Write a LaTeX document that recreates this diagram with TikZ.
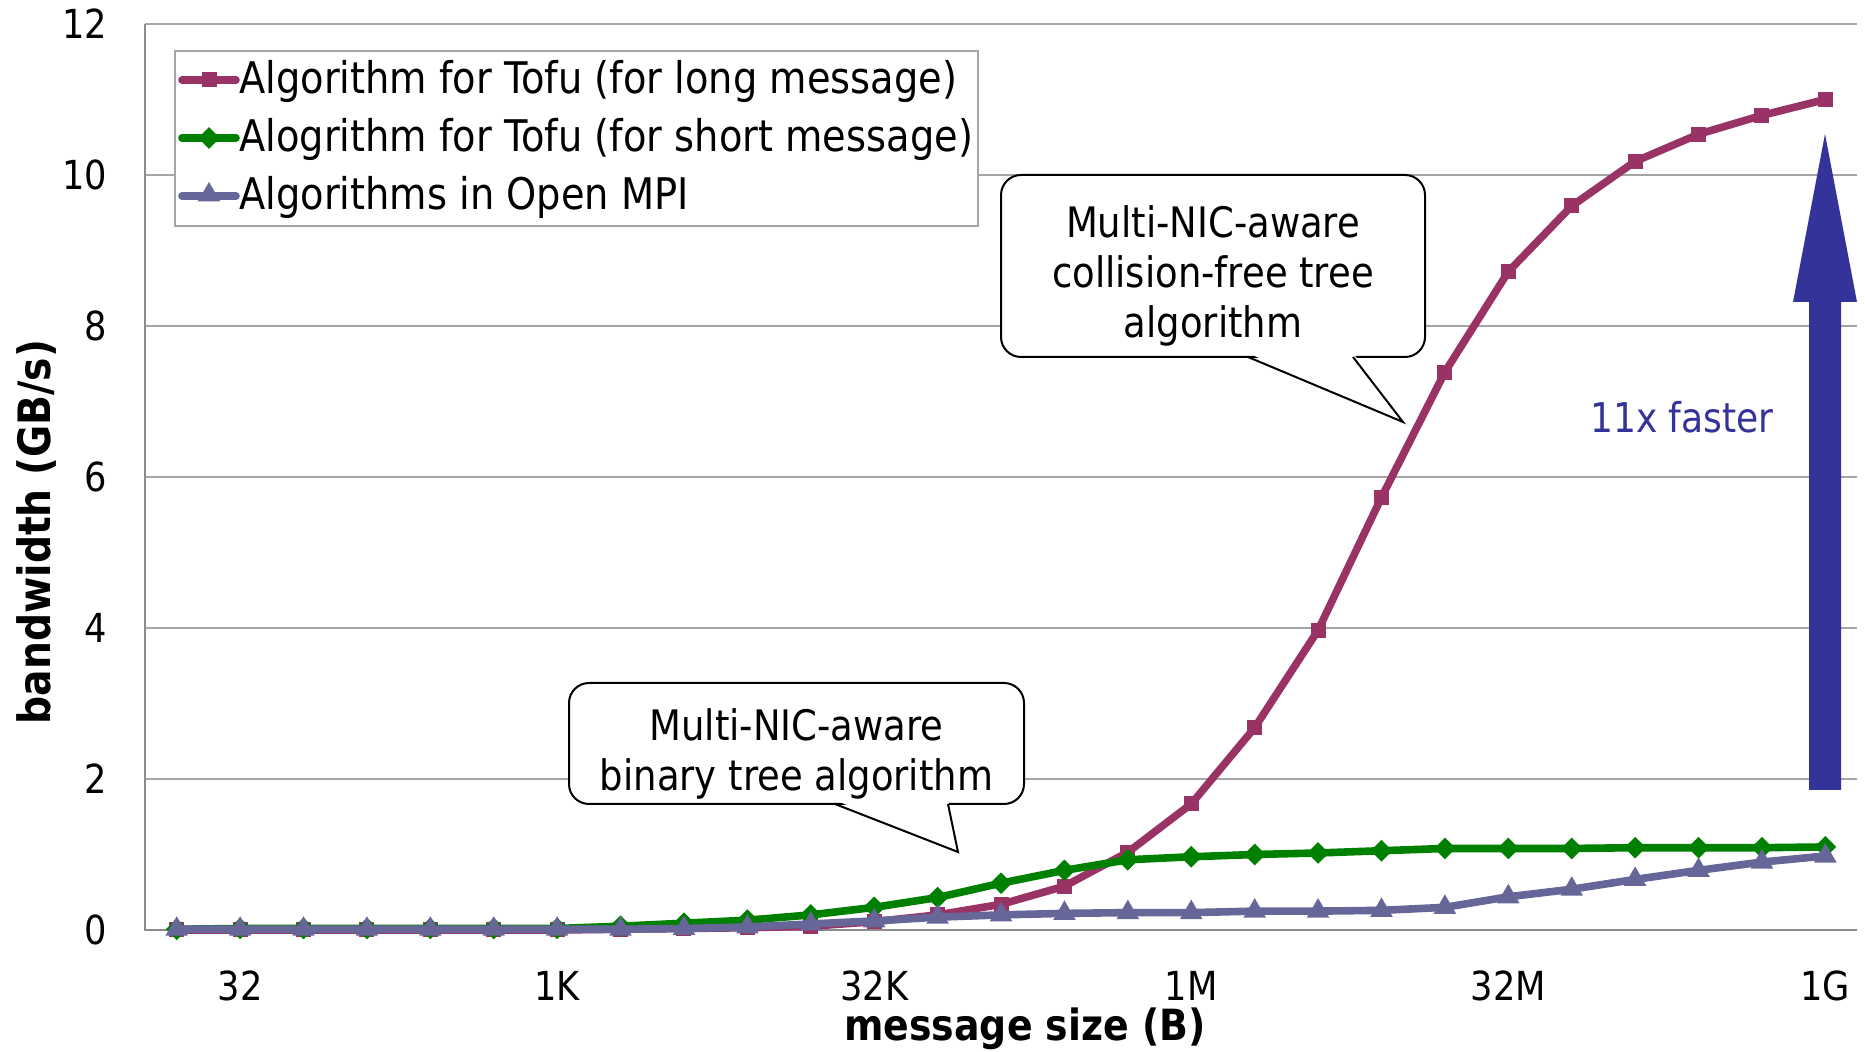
\documentclass[tikz,border=0pt]{standalone}
\usepackage{fontspec}
\setmainfont{DejaVu Sans}[FakeStretch=0.88]
\usetikzlibrary{shapes.geometric}

\definecolor{longc}{HTML}{993366}
\definecolor{shortc}{HTML}{008000}
\definecolor{mpic}{HTML}{666699}
\definecolor{arrowc}{HTML}{333399}
\definecolor{gridc}{HTML}{A6A6A6}
\definecolor{axisc}{HTML}{8C8C8C}

% category position (0 = 16 B, 26 = 1 GB) and value position
\newcommand\xcat[1]{(176.7+63.41*(#1))}
\newcommand\yval[1]{(930-75.5*(#1))}

% bandwidth values in GB/s, one per message size 16 B ... 1 GB
\def\longlist{0,0,0,0,0,0,0,0.01,0.02,0.03,0.05,0.11,0.2,0.34,0.58,1.03,1.67,2.68,3.97,5.73,7.39,8.72,9.59,10.18,10.54,10.79,11.0}
\def\shortlist{0.01,0.02,0.02,0.02,0.02,0.02,0.02,0.05,0.09,0.13,0.2,0.3,0.43,0.62,0.79,0.93,0.97,1.0,1.02,1.05,1.08,1.08,1.08,1.09,1.09,1.09,1.1}
\def\mpilist{0.01,0.01,0.01,0.01,0.01,0.01,0.01,0.01,0.02,0.04,0.08,0.12,0.17,0.2,0.22,0.23,0.23,0.25,0.25,0.26,0.3,0.44,0.54,0.67,0.79,0.9,0.98}

\tikzset{
  series/.style={line width=3.8pt, line join=round, line cap=round},
  sqmark/.style={rectangle, fill=longc, minimum size=7.5pt, inner sep=0pt},
  dmmark/.style={diamond, fill=shortc, minimum size=11pt, inner sep=0pt},
  trmark/.style={regular polygon, regular polygon sides=3, fill=mpic, minimum size=13pt, inner sep=0pt},
  gridline/.style={draw=gridc, line width=0.9pt},
  axisline/.style={draw=axisc, line width=0.9pt},
  ticklab/.style={font=\fontsize{20}{24}\selectfont, inner sep=0pt},
  legtext/.style={font=\fontsize{21.8}{26}\selectfont, inner sep=0pt, anchor=base west},
  axtitle/.style={font=\fontsize{21.5}{26}\selectfont\bfseries, inner sep=0pt, anchor=base},
  callout/.style={draw=black, fill=white, line width=1pt, rounded corners=10pt, inner sep=0pt},
  callouttext/.style={align=center, inner sep=0pt, font=\fontsize{21}{25}\selectfont},
  pointer/.style={draw=black, line width=1pt, line join=miter},
}

\begin{document}
\begin{tikzpicture}[x=0.5pt, y=-0.5pt]
  \useasboundingbox (0,0) rectangle (1865,1052);

  % horizontal grid lines and axes
  \foreach \v in {2,4,...,12}
    \draw[gridline] (145,{\yval{\v}}) -- (1857,{\yval{\v}});
  \draw[axisline] (145,{\yval{12}}) -- (145,{\yval{0}}) -- (1857,{\yval{0}});

  % value axis labels
  \foreach \v in {0,2,...,12}
    \node[ticklab, anchor=east] (yl\v) at (107.5,{\yval{\v}}) {\v};

  % message size labels
  \foreach \i/\t in {1/32,6/1K,11/32K,16/1M,21/32M,26/1G}
    \node[ticklab] (xl\i) at ({\xcat{\i}},986) {\t};

  % axis titles
  \node[axtitle] (xtitle) at (1025,1041) {message size (B)};
  \node[axtitle, font=\fontsize{22.3}{26}\selectfont\bfseries, rotate=90] (ytitle)
    at (50,532) {bandwidth (GB/s)};

  % legend
  \node[draw=gridc, fill=white, line width=0.8pt, minimum width=401.5pt,
        minimum height=87.5pt, inner sep=0pt] (legend) at (576.5,138.5) {};
  \draw[series, longc] (182,80) -- (236,80);
  \node[sqmark] (lm1) at (209,80) {};
  \node[legtext] (lt1) at (239,94) {Algorithm for Tofu (for long message)};
  \draw[series, shortc] (182,138) -- (236,138);
  \node[dmmark] (lm2) at (209,138) {};
  \node[legtext] (lt2) at (239,152) {Alogrithm for Tofu (for short message)};
  \draw[series, mpic] (182,196) -- (236,196);
  \node[trmark] (lm3) at (209,195) {};
  \node[legtext] (lt3) at (239,210) {Algorithms in Open MPI};

  % series: long-message algorithm
  \draw[series, longc] ({\xcat{0}},{\yval{0}})
    foreach \v [count=\i from 0] in \longlist { -- ({\xcat{\i}},{\yval{\v}}) };
  \foreach \v [count=\i from 0] in \longlist
    \node[sqmark] (m\i) at ({\xcat{\i}},{\yval{\v}}) {};

  % series: short-message algorithm
  \draw[series, shortc] ({\xcat{0}},{\yval{0.01}})
    foreach \v [count=\i from 0] in \shortlist { -- ({\xcat{\i}},{\yval{\v}}) };
  \foreach \v [count=\i from 0] in \shortlist
    \node[dmmark] (g\i) at ({\xcat{\i}},{\yval{\v}}) {};

  % series: Open MPI
  \draw[series, mpic] ({\xcat{0}},{\yval{0.01}})
    foreach \v [count=\i from 0] in \mpilist { -- ({\xcat{\i}},{\yval{\v}}) };
  \foreach \v [count=\i from 0] in \mpilist
    \node[trmark] (p\i) at ({\xcat{\i}},{\yval{\v}}) {};

  % callout: binary tree
  \node[callout, minimum width=227.5pt, minimum height=60.5pt] (c1) at (796.5,743.5) {};
  \coordinate (c1a) at (835,804);
  \coordinate (c1b) at (948,804);
  \coordinate (c1tip) at (958,852);
  \fill[white] ([yshift=2pt]c1a) -- (c1tip) -- ([yshift=2pt]c1b) -- cycle;
  \draw[pointer] (c1a) -- (c1tip) -- (c1b);
  \node[callouttext] (c1text) at (796.5,753.5) {Multi-NIC-aware\\binary tree algorithm};

  % callout: collision-free tree
  \node[callout, minimum width=212pt, minimum height=91pt] (c2) at (1213,266) {};
  \coordinate (c2a) at (1248,357);
  \coordinate (c2b) at (1353,357);
  \coordinate (c2tip) at (1403,422);
  \fill[white] ([yshift=2pt]c2a) -- (c2tip) -- ([yshift=2pt]c2b) -- cycle;
  \draw[pointer] (c2a) -- (c2tip) -- (c2b);
  \node[callouttext] (c2text) at (1213,276) {Multi-NIC-aware\\collision-free tree\\algorithm};

  % speed-up arrow
  \fill[arrowc] (1809,790) -- (1809,302) -- (1793,302) -- (1825,134)
    -- (1857,302) -- (1841,302) -- (1841,790) -- cycle;
  \node[font=\fontsize{20.5}{24}\selectfont, text=arrowc, inner sep=0pt] (speed)
    at (1682,417) {11x faster};
\end{tikzpicture}
\end{document}
